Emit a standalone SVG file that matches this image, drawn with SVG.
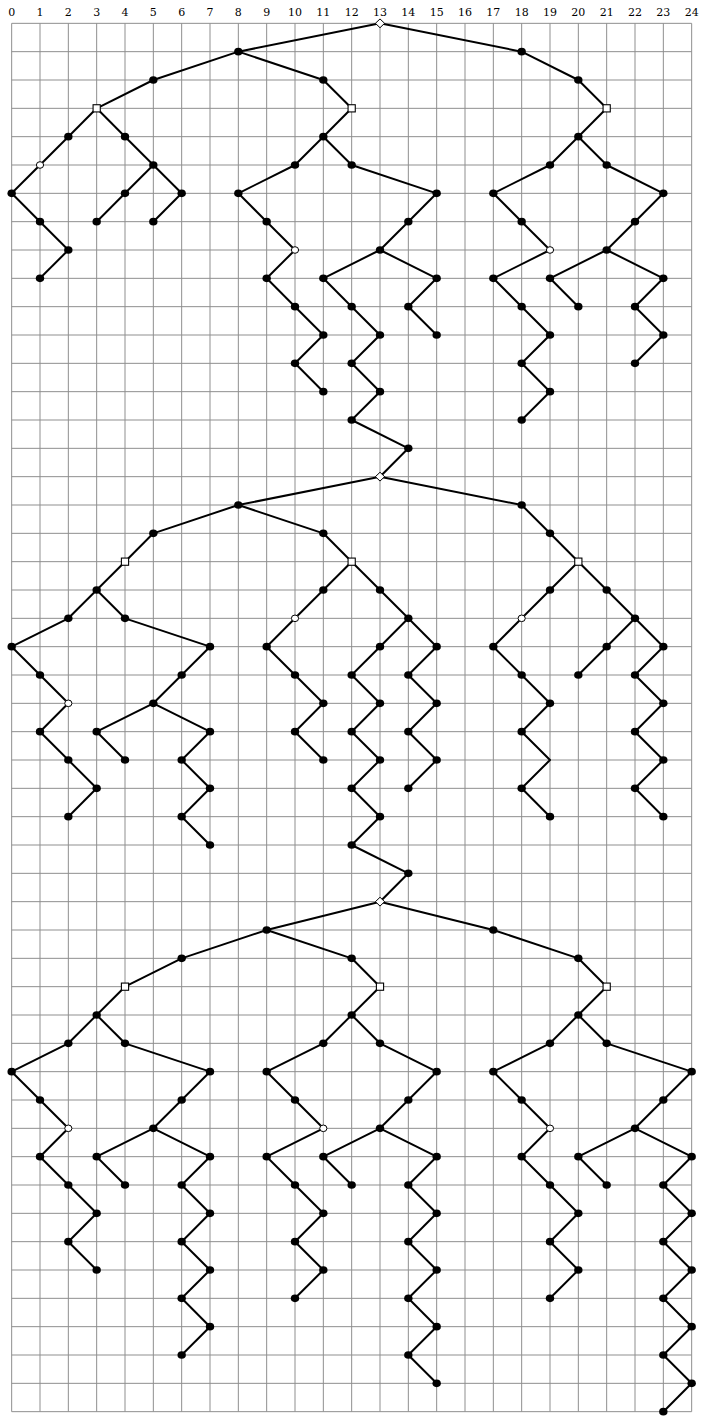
<svg xmlns="http://www.w3.org/2000/svg" xmlns:xlink="http://www.w3.org/1999/xlink" width="702" height="1418" viewBox="0 0 702 1418">
<style>
.grid{fill:none;stroke:#8f8f8f;stroke-width:1}
.lbl{font-family:"DejaVu Serif","Liberation Serif",serif;font-size:11px;fill:#000;text-anchor:middle}
#edges path{fill:none;stroke:#000;stroke-width:2;stroke-linejoin:round}
</style>
<defs>
<ellipse id="dot" rx="4.2" ry="3.8" fill="#000"/>
<ellipse id="ring" rx="3.6" ry="3.3" fill="#fff" stroke="#000" stroke-width="1"/>
<rect id="sq" x="-3.6" y="-3.6" width="7.2" height="7.2" fill="#fff" stroke="#000" stroke-width="1.1"/>
<path id="dia" d="M0 -4.4L4.6 0L0 4.4L-4.6 0Z" fill="#fff" stroke="#000" stroke-width="1"/>
</defs>
<rect width="702" height="1418" fill="#fff"/>
<g id="grid">
<path class="grid" d="M11.67 23.33V1411.67M40 23.33V1411.67M68.33 23.33V1411.67M96.67 23.33V1411.67M125 23.33V1411.67M153.33 23.33V1411.67M181.67 23.33V1411.67M210 23.33V1411.67M238.33 23.33V1411.67M266.67 23.33V1411.67M295 23.33V1411.67M323.33 23.33V1411.67M351.67 23.33V1411.67M380 23.33V1411.67M408.33 23.33V1411.67M436.67 23.33V1411.67M465 23.33V1411.67M493.33 23.33V1411.67M521.67 23.33V1411.67M550 23.33V1411.67M578.33 23.33V1411.67M606.67 23.33V1411.67M635 23.33V1411.67M663.33 23.33V1411.67M691.67 23.33V1411.67
M11.67 23.33H691.67M11.67 51.67H691.67M11.67 80H691.67M11.67 108.33H691.67M11.67 136.67H691.67M11.67 165H691.67M11.67 193.33H691.67M11.67 221.67H691.67M11.67 250H691.67M11.67 278.33H691.67M11.67 306.67H691.67M11.67 335H691.67M11.67 363.33H691.67M11.67 391.67H691.67M11.67 420H691.67M11.67 448.33H691.67M11.67 476.67H691.67M11.67 505H691.67M11.67 533.33H691.67M11.67 561.67H691.67M11.67 590H691.67M11.67 618.33H691.67M11.67 646.67H691.67M11.67 675H691.67M11.67 703.33H691.67M11.67 731.67H691.67M11.67 760H691.67M11.67 788.33H691.67M11.67 816.67H691.67M11.67 845H691.67M11.67 873.33H691.67M11.67 901.67H691.67M11.67 930H691.67M11.67 958.33H691.67M11.67 986.67H691.67M11.67 1015H691.67M11.67 1043.33H691.67M11.67 1071.67H691.67M11.67 1100H691.67M11.67 1128.33H691.67M11.67 1156.67H691.67M11.67 1185H691.67M11.67 1213.33H691.67M11.67 1241.67H691.67M11.67 1270H691.67M11.67 1298.33H691.67M11.67 1326.67H691.67M11.67 1355H691.67M11.67 1383.33H691.67M11.67 1411.67H691.67"/>
</g>
<g id="labels">
<text class="lbl" x="11.67" y="15.7">0</text><text class="lbl" x="40" y="15.7">1</text><text class="lbl" x="68.33" y="15.7">2</text><text class="lbl" x="96.67" y="15.7">3</text><text class="lbl" x="125" y="15.7">4</text><text class="lbl" x="153.33" y="15.7">5</text><text class="lbl" x="181.67" y="15.7">6</text><text class="lbl" x="210" y="15.7">7</text><text class="lbl" x="238.33" y="15.7">8</text><text class="lbl" x="266.67" y="15.7">9</text><text class="lbl" x="295" y="15.7">10</text><text class="lbl" x="323.33" y="15.7">11</text><text class="lbl" x="351.67" y="15.7">12</text><text class="lbl" x="380" y="15.7">13</text><text class="lbl" x="408.33" y="15.7">14</text><text class="lbl" x="436.67" y="15.7">15</text><text class="lbl" x="465" y="15.7">16</text><text class="lbl" x="493.33" y="15.7">17</text><text class="lbl" x="521.67" y="15.7">18</text><text class="lbl" x="550" y="15.7">19</text><text class="lbl" x="578.33" y="15.7">20</text><text class="lbl" x="606.67" y="15.7">21</text><text class="lbl" x="635" y="15.7">22</text><text class="lbl" x="663.33" y="15.7">23</text><text class="lbl" x="691.67" y="15.7">24</text>
</g>
<g id="edges">
<path d="M380 23.33L238.33 51.67"/><path d="M380 23.33L521.67 51.67"/><path d="M238.33 51.67L153.33 80"/><path d="M238.33 51.67L323.33 80"/><path d="M153.33 80L96.67 108.33"/><path d="M323.33 80L351.67 108.33"/><path d="M521.67 51.67L578.33 80"/><path d="M578.33 80L606.67 108.33"/>
<path d="M96.67 108.33L68.33 136.67"/><path d="M96.67 108.33L125 136.67"/><path d="M68.33 136.67L40 165"/><path d="M40 165L11.67 193.33"/><path d="M11.67 193.33L40 221.67"/><path d="M40 221.67L68.33 250"/><path d="M68.33 250L40 278.33"/><path d="M125 136.67L153.33 165"/><path d="M153.33 165L125 193.33"/><path d="M153.33 165L181.67 193.33"/><path d="M125 193.33L96.67 221.67"/><path d="M181.67 193.33L153.33 221.67"/>
<path d="M351.67 108.33L323.33 136.67"/><path d="M323.33 136.67L295 165"/><path d="M323.33 136.67L351.67 165"/><path d="M295 165L238.33 193.33"/><path d="M238.33 193.33L266.67 221.67"/><path d="M266.67 221.67L295 250"/><path d="M295 250L266.67 278.33"/><path d="M266.67 278.33L295 306.67"/><path d="M295 306.67L323.33 335"/><path d="M323.33 335L295 363.33"/><path d="M295 363.33L323.33 391.67"/>
<path d="M351.67 165L436.67 193.33"/><path d="M436.67 193.33L408.33 221.67"/><path d="M408.33 221.67L380 250"/><path d="M380 250L323.33 278.33"/><path d="M380 250L436.67 278.33"/><path d="M323.33 278.33L351.67 306.67"/><path d="M351.67 306.67L380 335"/><path d="M380 335L351.67 363.33"/><path d="M351.67 363.33L380 391.67"/><path d="M380 391.67L351.67 420"/><path d="M351.67 420L408.33 448.33"/><path d="M408.33 448.33L380 476.67"/><path d="M436.67 278.33L408.33 306.67"/><path d="M408.33 306.67L436.67 335"/>
<path d="M606.67 108.33L578.33 136.67"/><path d="M578.33 136.67L550 165"/><path d="M578.33 136.67L606.67 165"/><path d="M550 165L493.33 193.33"/><path d="M493.33 193.33L521.67 221.67"/><path d="M521.67 221.67L550 250"/><path d="M550 250L493.33 278.33"/><path d="M493.33 278.33L521.67 306.67"/><path d="M521.67 306.67L550 335"/><path d="M550 335L521.67 363.33"/><path d="M521.67 363.33L550 391.67"/><path d="M550 391.67L521.67 420"/>
<path d="M606.67 165L663.33 193.33"/><path d="M663.33 193.33L635 221.67"/><path d="M635 221.67L606.67 250"/><path d="M606.67 250L550 278.33"/><path d="M606.67 250L663.33 278.33"/><path d="M550 278.33L578.33 306.67"/><path d="M663.33 278.33L635 306.67"/><path d="M635 306.67L663.33 335"/><path d="M663.33 335L635 363.33"/>
<path d="M380 476.67L238.33 505"/><path d="M380 476.67L521.67 505"/><path d="M238.33 505L153.33 533.33"/><path d="M238.33 505L323.33 533.33"/><path d="M153.33 533.33L125 561.67"/><path d="M323.33 533.33L351.67 561.67"/><path d="M521.67 505L550 533.33"/><path d="M550 533.33L578.33 561.67"/>
<path d="M125 561.67L96.67 590"/><path d="M96.67 590L68.33 618.33"/><path d="M96.67 590L125 618.33"/><path d="M68.33 618.33L11.67 646.67"/><path d="M125 618.33L210 646.67"/><path d="M11.67 646.67L40 675"/><path d="M40 675L68.33 703.33"/><path d="M210 646.67L181.67 675"/><path d="M181.67 675L153.33 703.33"/><path d="M68.33 703.33L40 731.67"/><path d="M40 731.67L68.33 760"/><path d="M68.33 760L96.67 788.33"/><path d="M96.67 788.33L68.33 816.67"/><path d="M153.33 703.33L96.67 731.67"/><path d="M153.33 703.33L210 731.67"/><path d="M96.67 731.67L125 760"/><path d="M210 731.67L181.67 760"/><path d="M181.67 760L210 788.33"/><path d="M210 788.33L181.67 816.67"/><path d="M181.67 816.67L210 845"/>
<path d="M351.67 561.67L323.33 590"/><path d="M323.33 590L295 618.33"/><path d="M295 618.33L266.67 646.67"/><path d="M266.67 646.67L295 675"/><path d="M295 675L323.33 703.33"/><path d="M323.33 703.33L295 731.67"/><path d="M295 731.67L323.33 760"/>
<path d="M351.67 561.67L380 590"/><path d="M380 590L408.33 618.33"/><path d="M408.33 618.33L380 646.67"/><path d="M408.33 618.33L436.67 646.67"/><path d="M380 646.67L351.67 675"/><path d="M351.67 675L380 703.33"/><path d="M380 703.33L351.67 731.67"/><path d="M351.67 731.67L380 760"/><path d="M380 760L351.67 788.33"/><path d="M351.67 788.33L380 816.67"/><path d="M380 816.67L351.67 845"/><path d="M351.67 845L408.33 873.33"/><path d="M408.33 873.33L380 901.67"/><path d="M436.67 646.67L408.33 675"/><path d="M408.33 675L436.67 703.33"/><path d="M436.67 703.33L408.33 731.67"/><path d="M408.33 731.67L436.67 760"/><path d="M436.67 760L408.33 788.33"/>
<path d="M578.33 561.67L550 590"/><path d="M550 590L521.67 618.33"/><path d="M521.67 618.33L493.33 646.67"/><path d="M493.33 646.67L521.67 675"/><path d="M521.67 675L550 703.33"/><path d="M550 703.33L521.67 731.67"/><path d="M521.67 731.67L550 760L521.67 788.33"/><path d="M521.67 788.33L550 816.67"/>
<path d="M578.33 561.67L606.67 590"/><path d="M606.67 590L635 618.33"/><path d="M635 618.33L606.67 646.67"/><path d="M635 618.33L663.33 646.67"/><path d="M606.67 646.67L578.33 675"/><path d="M663.33 646.67L635 675"/><path d="M635 675L663.33 703.33"/><path d="M663.33 703.33L635 731.67"/><path d="M635 731.67L663.33 760"/><path d="M663.33 760L635 788.33"/><path d="M635 788.33L663.33 816.67"/>
<path d="M380 901.67L266.67 930"/><path d="M380 901.67L493.33 930"/><path d="M266.67 930L181.67 958.33"/><path d="M266.67 930L351.67 958.33"/><path d="M181.67 958.33L125 986.67"/><path d="M351.67 958.33L380 986.67"/><path d="M493.33 930L578.33 958.33"/><path d="M578.33 958.33L606.67 986.67"/>
<path d="M125 986.67L96.67 1015"/><path d="M96.67 1015L68.33 1043.33"/><path d="M96.67 1015L125 1043.33"/><path d="M68.33 1043.33L11.67 1071.67"/><path d="M125 1043.33L210 1071.67"/><path d="M11.67 1071.67L40 1100"/><path d="M40 1100L68.33 1128.33"/><path d="M68.33 1128.33L40 1156.67"/><path d="M40 1156.67L68.33 1185"/><path d="M68.33 1185L96.67 1213.33"/><path d="M96.67 1213.33L68.33 1241.67"/><path d="M68.33 1241.67L96.67 1270"/>
<path d="M210 1071.67L181.67 1100"/><path d="M181.67 1100L153.33 1128.33"/><path d="M153.33 1128.33L96.67 1156.67"/><path d="M153.33 1128.33L210 1156.67"/><path d="M96.67 1156.67L125 1185"/><path d="M210 1156.67L181.67 1185"/><path d="M181.67 1185L210 1213.33"/><path d="M210 1213.33L181.67 1241.67"/><path d="M181.67 1241.67L210 1270"/><path d="M210 1270L181.67 1298.33"/><path d="M181.67 1298.33L210 1326.67"/><path d="M210 1326.67L181.67 1355"/>
<path d="M380 986.67L351.67 1015"/><path d="M351.67 1015L323.33 1043.33"/><path d="M351.67 1015L380 1043.33"/><path d="M323.33 1043.33L266.67 1071.67"/><path d="M266.67 1071.67L295 1100"/><path d="M295 1100L323.33 1128.33"/><path d="M323.33 1128.33L266.67 1156.67"/><path d="M266.67 1156.67L295 1185"/><path d="M295 1185L323.33 1213.33"/><path d="M323.33 1213.33L295 1241.67"/><path d="M295 1241.67L323.33 1270"/><path d="M323.33 1270L295 1298.33"/>
<path d="M380 1043.33L436.67 1071.67"/><path d="M436.67 1071.67L408.33 1100"/><path d="M408.33 1100L380 1128.33"/><path d="M380 1128.33L323.33 1156.67"/><path d="M380 1128.33L436.67 1156.67"/><path d="M323.33 1156.67L351.67 1185"/><path d="M436.67 1156.67L408.33 1185"/><path d="M408.33 1185L436.67 1213.33"/><path d="M436.67 1213.33L408.33 1241.67"/><path d="M408.33 1241.67L436.67 1270"/><path d="M436.67 1270L408.33 1298.33"/><path d="M408.33 1298.33L436.67 1326.67"/><path d="M436.67 1326.67L408.33 1355"/><path d="M408.33 1355L436.67 1383.33"/>
<path d="M606.67 986.67L578.33 1015"/><path d="M578.33 1015L550 1043.33"/><path d="M578.33 1015L606.67 1043.33"/><path d="M550 1043.33L493.33 1071.67"/><path d="M606.67 1043.33L691.67 1071.67"/><path d="M493.33 1071.67L521.67 1100"/><path d="M521.67 1100L550 1128.33"/><path d="M550 1128.33L521.67 1156.67"/><path d="M521.67 1156.67L550 1185"/><path d="M550 1185L578.33 1213.33"/><path d="M578.33 1213.33L550 1241.67"/><path d="M550 1241.67L578.33 1270"/><path d="M578.33 1270L550 1298.33"/>
<path d="M691.67 1071.67L663.33 1100"/><path d="M663.33 1100L635 1128.33"/><path d="M635 1128.33L578.33 1156.67"/><path d="M635 1128.33L691.67 1156.67"/><path d="M578.33 1156.67L606.67 1185"/><path d="M691.67 1156.67L663.33 1185"/><path d="M663.33 1185L691.67 1213.33"/><path d="M691.67 1213.33L663.33 1241.67"/><path d="M663.33 1241.67L691.67 1270"/><path d="M691.67 1270L663.33 1298.33"/><path d="M663.33 1298.33L691.67 1326.67"/><path d="M691.67 1326.67L663.33 1355"/><path d="M663.33 1355L691.67 1383.33"/><path d="M691.67 1383.33L663.33 1411.67"/>
</g>
<g id="nodes">
<g id="n13-0"><use href="#dia" x="380" y="23.33"/></g>
<g id="n8-1"><use href="#dot" x="238.33" y="51.67"/></g><g id="n18-1"><use href="#dot" x="521.67" y="51.67"/></g>
<g id="n5-2"><use href="#dot" x="153.33" y="80"/></g><g id="n11-2"><use href="#dot" x="323.33" y="80"/></g><g id="n20-2"><use href="#dot" x="578.33" y="80"/></g>
<g id="n3-3"><use href="#sq" x="96.67" y="108.33"/></g><g id="n12-3"><use href="#sq" x="351.67" y="108.33"/></g><g id="n21-3"><use href="#sq" x="606.67" y="108.33"/></g>
<g id="n2-4"><use href="#dot" x="68.33" y="136.67"/></g><g id="n4-4"><use href="#dot" x="125" y="136.67"/></g><g id="n11-4"><use href="#dot" x="323.33" y="136.67"/></g><g id="n20-4"><use href="#dot" x="578.33" y="136.67"/></g>
<g id="n1-5"><use href="#ring" x="40" y="165"/></g><g id="n5-5"><use href="#dot" x="153.33" y="165"/></g><g id="n10-5"><use href="#dot" x="295" y="165"/></g><g id="n12-5"><use href="#dot" x="351.67" y="165"/></g><g id="n19-5"><use href="#dot" x="550" y="165"/></g><g id="n21-5"><use href="#dot" x="606.67" y="165"/></g>
<g id="n0-6"><use href="#dot" x="11.67" y="193.33"/></g><g id="n4-6"><use href="#dot" x="125" y="193.33"/></g><g id="n6-6"><use href="#dot" x="181.67" y="193.33"/></g><g id="n8-6"><use href="#dot" x="238.33" y="193.33"/></g><g id="n15-6"><use href="#dot" x="436.67" y="193.33"/></g><g id="n17-6"><use href="#dot" x="493.33" y="193.33"/></g><g id="n23-6"><use href="#dot" x="663.33" y="193.33"/></g>
<g id="n1-7"><use href="#dot" x="40" y="221.67"/></g><g id="n3-7"><use href="#dot" x="96.67" y="221.67"/></g><g id="n5-7"><use href="#dot" x="153.33" y="221.67"/></g><g id="n9-7"><use href="#dot" x="266.67" y="221.67"/></g><g id="n14-7"><use href="#dot" x="408.33" y="221.67"/></g><g id="n18-7"><use href="#dot" x="521.67" y="221.67"/></g><g id="n22-7"><use href="#dot" x="635" y="221.67"/></g>
<g id="n2-8"><use href="#dot" x="68.33" y="250"/></g><g id="n10-8"><use href="#ring" x="295" y="250"/></g><g id="n13-8"><use href="#dot" x="380" y="250"/></g><g id="n19-8"><use href="#ring" x="550" y="250"/></g><g id="n21-8"><use href="#dot" x="606.67" y="250"/></g>
<g id="n1-9"><use href="#dot" x="40" y="278.33"/></g><g id="n9-9"><use href="#dot" x="266.67" y="278.33"/></g><g id="n11-9"><use href="#dot" x="323.33" y="278.33"/></g><g id="n15-9"><use href="#dot" x="436.67" y="278.33"/></g><g id="n17-9"><use href="#dot" x="493.33" y="278.33"/></g><g id="n19-9"><use href="#dot" x="550" y="278.33"/></g><g id="n23-9"><use href="#dot" x="663.33" y="278.33"/></g>
<g id="n10-10"><use href="#dot" x="295" y="306.67"/></g><g id="n12-10"><use href="#dot" x="351.67" y="306.67"/></g><g id="n14-10"><use href="#dot" x="408.33" y="306.67"/></g><g id="n18-10"><use href="#dot" x="521.67" y="306.67"/></g><g id="n20-10"><use href="#dot" x="578.33" y="306.67"/></g><g id="n22-10"><use href="#dot" x="635" y="306.67"/></g>
<g id="n11-11"><use href="#dot" x="323.33" y="335"/></g><g id="n13-11"><use href="#dot" x="380" y="335"/></g><g id="n15-11"><use href="#dot" x="436.67" y="335"/></g><g id="n19-11"><use href="#dot" x="550" y="335"/></g><g id="n23-11"><use href="#dot" x="663.33" y="335"/></g>
<g id="n10-12"><use href="#dot" x="295" y="363.33"/></g><g id="n12-12"><use href="#dot" x="351.67" y="363.33"/></g><g id="n18-12"><use href="#dot" x="521.67" y="363.33"/></g><g id="n22-12"><use href="#dot" x="635" y="363.33"/></g>
<g id="n11-13"><use href="#dot" x="323.33" y="391.67"/></g><g id="n13-13"><use href="#dot" x="380" y="391.67"/></g><g id="n19-13"><use href="#dot" x="550" y="391.67"/></g>
<g id="n12-14"><use href="#dot" x="351.67" y="420"/></g><g id="n18-14"><use href="#dot" x="521.67" y="420"/></g>
<g id="n14-15"><use href="#dot" x="408.33" y="448.33"/></g>
<g id="n13-16"><use href="#dia" x="380" y="476.67"/></g>
<g id="n8-17"><use href="#dot" x="238.33" y="505"/></g><g id="n18-17"><use href="#dot" x="521.67" y="505"/></g>
<g id="n5-18"><use href="#dot" x="153.33" y="533.33"/></g><g id="n11-18"><use href="#dot" x="323.33" y="533.33"/></g><g id="n19-18"><use href="#dot" x="550" y="533.33"/></g>
<g id="n4-19"><use href="#sq" x="125" y="561.67"/></g><g id="n12-19"><use href="#sq" x="351.67" y="561.67"/></g><g id="n20-19"><use href="#sq" x="578.33" y="561.67"/></g>
<g id="n3-20"><use href="#dot" x="96.67" y="590"/></g><g id="n11-20"><use href="#dot" x="323.33" y="590"/></g><g id="n13-20"><use href="#dot" x="380" y="590"/></g><g id="n19-20"><use href="#dot" x="550" y="590"/></g><g id="n21-20"><use href="#dot" x="606.67" y="590"/></g>
<g id="n2-21"><use href="#dot" x="68.33" y="618.33"/></g><g id="n4-21"><use href="#dot" x="125" y="618.33"/></g><g id="n10-21"><use href="#ring" x="295" y="618.33"/></g><g id="n14-21"><use href="#dot" x="408.33" y="618.33"/></g><g id="n18-21"><use href="#ring" x="521.67" y="618.33"/></g><g id="n22-21"><use href="#dot" x="635" y="618.33"/></g>
<g id="n0-22"><use href="#dot" x="11.67" y="646.67"/></g><g id="n7-22"><use href="#dot" x="210" y="646.67"/></g><g id="n9-22"><use href="#dot" x="266.67" y="646.67"/></g><g id="n13-22"><use href="#dot" x="380" y="646.67"/></g><g id="n15-22"><use href="#dot" x="436.67" y="646.67"/></g><g id="n17-22"><use href="#dot" x="493.33" y="646.67"/></g><g id="n21-22"><use href="#dot" x="606.67" y="646.67"/></g><g id="n23-22"><use href="#dot" x="663.33" y="646.67"/></g>
<g id="n1-23"><use href="#dot" x="40" y="675"/></g><g id="n6-23"><use href="#dot" x="181.67" y="675"/></g><g id="n10-23"><use href="#dot" x="295" y="675"/></g><g id="n12-23"><use href="#dot" x="351.67" y="675"/></g><g id="n14-23"><use href="#dot" x="408.33" y="675"/></g><g id="n18-23"><use href="#dot" x="521.67" y="675"/></g><g id="n20-23"><use href="#dot" x="578.33" y="675"/></g><g id="n22-23"><use href="#dot" x="635" y="675"/></g>
<g id="n2-24"><use href="#ring" x="68.33" y="703.33"/></g><g id="n5-24"><use href="#dot" x="153.33" y="703.33"/></g><g id="n11-24"><use href="#dot" x="323.33" y="703.33"/></g><g id="n13-24"><use href="#dot" x="380" y="703.33"/></g><g id="n15-24"><use href="#dot" x="436.67" y="703.33"/></g><g id="n19-24"><use href="#dot" x="550" y="703.33"/></g><g id="n23-24"><use href="#dot" x="663.33" y="703.33"/></g>
<g id="n1-25"><use href="#dot" x="40" y="731.67"/></g><g id="n3-25"><use href="#dot" x="96.67" y="731.67"/></g><g id="n7-25"><use href="#dot" x="210" y="731.67"/></g><g id="n10-25"><use href="#dot" x="295" y="731.67"/></g><g id="n12-25"><use href="#dot" x="351.67" y="731.67"/></g><g id="n14-25"><use href="#dot" x="408.33" y="731.67"/></g><g id="n18-25"><use href="#dot" x="521.67" y="731.67"/></g><g id="n22-25"><use href="#dot" x="635" y="731.67"/></g>
<g id="n2-26"><use href="#dot" x="68.33" y="760"/></g><g id="n4-26"><use href="#dot" x="125" y="760"/></g><g id="n6-26"><use href="#dot" x="181.67" y="760"/></g><g id="n11-26"><use href="#dot" x="323.33" y="760"/></g><g id="n13-26"><use href="#dot" x="380" y="760"/></g><g id="n15-26"><use href="#dot" x="436.67" y="760"/></g><g id="n23-26"><use href="#dot" x="663.33" y="760"/></g>
<g id="n3-27"><use href="#dot" x="96.67" y="788.33"/></g><g id="n7-27"><use href="#dot" x="210" y="788.33"/></g><g id="n12-27"><use href="#dot" x="351.67" y="788.33"/></g><g id="n14-27"><use href="#dot" x="408.33" y="788.33"/></g><g id="n18-27"><use href="#dot" x="521.67" y="788.33"/></g><g id="n22-27"><use href="#dot" x="635" y="788.33"/></g>
<g id="n2-28"><use href="#dot" x="68.33" y="816.67"/></g><g id="n6-28"><use href="#dot" x="181.67" y="816.67"/></g><g id="n13-28"><use href="#dot" x="380" y="816.67"/></g><g id="n19-28"><use href="#dot" x="550" y="816.67"/></g><g id="n23-28"><use href="#dot" x="663.33" y="816.67"/></g>
<g id="n7-29"><use href="#dot" x="210" y="845"/></g><g id="n12-29"><use href="#dot" x="351.67" y="845"/></g>
<g id="n14-30"><use href="#dot" x="408.33" y="873.33"/></g>
<g id="n13-31"><use href="#dia" x="380" y="901.67"/></g>
<g id="n9-32"><use href="#dot" x="266.67" y="930"/></g><g id="n17-32"><use href="#dot" x="493.33" y="930"/></g>
<g id="n6-33"><use href="#dot" x="181.67" y="958.33"/></g><g id="n12-33"><use href="#dot" x="351.67" y="958.33"/></g><g id="n20-33"><use href="#dot" x="578.33" y="958.33"/></g>
<g id="n4-34"><use href="#sq" x="125" y="986.67"/></g><g id="n13-34"><use href="#sq" x="380" y="986.67"/></g><g id="n21-34"><use href="#sq" x="606.67" y="986.67"/></g>
<g id="n3-35"><use href="#dot" x="96.67" y="1015"/></g><g id="n12-35"><use href="#dot" x="351.67" y="1015"/></g><g id="n20-35"><use href="#dot" x="578.33" y="1015"/></g>
<g id="n2-36"><use href="#dot" x="68.33" y="1043.33"/></g><g id="n4-36"><use href="#dot" x="125" y="1043.33"/></g><g id="n11-36"><use href="#dot" x="323.33" y="1043.33"/></g><g id="n13-36"><use href="#dot" x="380" y="1043.33"/></g><g id="n19-36"><use href="#dot" x="550" y="1043.33"/></g><g id="n21-36"><use href="#dot" x="606.67" y="1043.33"/></g>
<g id="n0-37"><use href="#dot" x="11.67" y="1071.67"/></g><g id="n7-37"><use href="#dot" x="210" y="1071.67"/></g><g id="n9-37"><use href="#dot" x="266.67" y="1071.67"/></g><g id="n15-37"><use href="#dot" x="436.67" y="1071.67"/></g><g id="n17-37"><use href="#dot" x="493.33" y="1071.67"/></g><g id="n24-37"><use href="#dot" x="691.67" y="1071.67"/></g>
<g id="n1-38"><use href="#dot" x="40" y="1100"/></g><g id="n6-38"><use href="#dot" x="181.67" y="1100"/></g><g id="n10-38"><use href="#dot" x="295" y="1100"/></g><g id="n14-38"><use href="#dot" x="408.33" y="1100"/></g><g id="n18-38"><use href="#dot" x="521.67" y="1100"/></g><g id="n23-38"><use href="#dot" x="663.33" y="1100"/></g>
<g id="n2-39"><use href="#ring" x="68.33" y="1128.33"/></g><g id="n5-39"><use href="#dot" x="153.33" y="1128.33"/></g><g id="n11-39"><use href="#ring" x="323.33" y="1128.33"/></g><g id="n13-39"><use href="#dot" x="380" y="1128.33"/></g><g id="n19-39"><use href="#ring" x="550" y="1128.33"/></g><g id="n22-39"><use href="#dot" x="635" y="1128.33"/></g>
<g id="n1-40"><use href="#dot" x="40" y="1156.67"/></g><g id="n3-40"><use href="#dot" x="96.67" y="1156.67"/></g><g id="n7-40"><use href="#dot" x="210" y="1156.67"/></g><g id="n9-40"><use href="#dot" x="266.67" y="1156.67"/></g><g id="n11-40"><use href="#dot" x="323.33" y="1156.67"/></g><g id="n15-40"><use href="#dot" x="436.67" y="1156.67"/></g><g id="n18-40"><use href="#dot" x="521.67" y="1156.67"/></g><g id="n20-40"><use href="#dot" x="578.33" y="1156.67"/></g><g id="n24-40"><use href="#dot" x="691.67" y="1156.67"/></g>
<g id="n2-41"><use href="#dot" x="68.33" y="1185"/></g><g id="n4-41"><use href="#dot" x="125" y="1185"/></g><g id="n6-41"><use href="#dot" x="181.67" y="1185"/></g><g id="n10-41"><use href="#dot" x="295" y="1185"/></g><g id="n12-41"><use href="#dot" x="351.67" y="1185"/></g><g id="n14-41"><use href="#dot" x="408.33" y="1185"/></g><g id="n19-41"><use href="#dot" x="550" y="1185"/></g><g id="n21-41"><use href="#dot" x="606.67" y="1185"/></g><g id="n23-41"><use href="#dot" x="663.33" y="1185"/></g>
<g id="n3-42"><use href="#dot" x="96.67" y="1213.33"/></g><g id="n7-42"><use href="#dot" x="210" y="1213.33"/></g><g id="n11-42"><use href="#dot" x="323.33" y="1213.33"/></g><g id="n15-42"><use href="#dot" x="436.67" y="1213.33"/></g><g id="n20-42"><use href="#dot" x="578.33" y="1213.33"/></g><g id="n24-42"><use href="#dot" x="691.67" y="1213.33"/></g>
<g id="n2-43"><use href="#dot" x="68.33" y="1241.67"/></g><g id="n6-43"><use href="#dot" x="181.67" y="1241.67"/></g><g id="n10-43"><use href="#dot" x="295" y="1241.67"/></g><g id="n14-43"><use href="#dot" x="408.33" y="1241.67"/></g><g id="n19-43"><use href="#dot" x="550" y="1241.67"/></g><g id="n23-43"><use href="#dot" x="663.33" y="1241.67"/></g>
<g id="n3-44"><use href="#dot" x="96.67" y="1270"/></g><g id="n7-44"><use href="#dot" x="210" y="1270"/></g><g id="n11-44"><use href="#dot" x="323.33" y="1270"/></g><g id="n15-44"><use href="#dot" x="436.67" y="1270"/></g><g id="n20-44"><use href="#dot" x="578.33" y="1270"/></g><g id="n24-44"><use href="#dot" x="691.67" y="1270"/></g>
<g id="n6-45"><use href="#dot" x="181.67" y="1298.33"/></g><g id="n10-45"><use href="#dot" x="295" y="1298.33"/></g><g id="n14-45"><use href="#dot" x="408.33" y="1298.33"/></g><g id="n19-45"><use href="#dot" x="550" y="1298.33"/></g><g id="n23-45"><use href="#dot" x="663.33" y="1298.33"/></g>
<g id="n7-46"><use href="#dot" x="210" y="1326.67"/></g><g id="n15-46"><use href="#dot" x="436.67" y="1326.67"/></g><g id="n24-46"><use href="#dot" x="691.67" y="1326.67"/></g>
<g id="n6-47"><use href="#dot" x="181.67" y="1355"/></g><g id="n14-47"><use href="#dot" x="408.33" y="1355"/></g><g id="n23-47"><use href="#dot" x="663.33" y="1355"/></g>
<g id="n15-48"><use href="#dot" x="436.67" y="1383.33"/></g><g id="n24-48"><use href="#dot" x="691.67" y="1383.33"/></g>
<g id="n23-49"><use href="#dot" x="663.33" y="1411.67"/></g>
</g>
</svg>
